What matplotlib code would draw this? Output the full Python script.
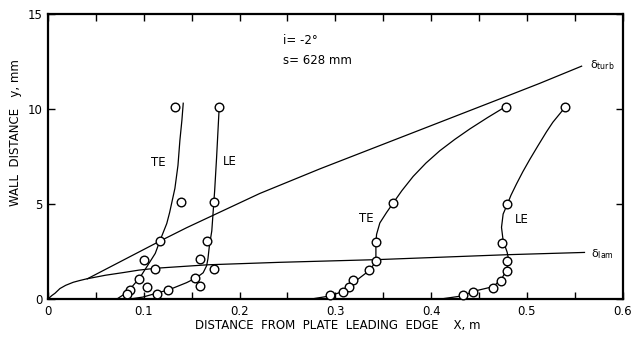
import matplotlib
matplotlib.use("Agg")
import matplotlib.pyplot as plt
from matplotlib.ticker import MultipleLocator

plt.rcParams['font.family'] = ['Liberation Sans Narrow', 'DejaVu Sans Condensed', 'DejaVu Sans']

# boundary layer thickness lines (x in m, y in mm)
lam_x = [0.0, 0.002, 0.004, 0.0073, 0.0125, 0.0185, 0.0264, 0.033, 0.0404, 0.06, 0.0786, 0.095,
         0.113, 0.167, 0.242, 0.3426, 0.479, 0.56]
lam_y = [0.0, 0.09, 0.18, 0.3, 0.55, 0.72, 0.88, 0.97, 1.06, 1.25, 1.39, 1.52,
         1.62, 1.8, 1.93, 2.07, 2.33, 2.45]
turb_x = [0.041, 0.117, 0.1447, 0.221, 0.284, 0.4856, 0.513, 0.557]
turb_y = [1.06, 3.05, 3.75, 5.55, 6.85, 10.8, 11.34, 12.25]

# transition-front traces, station 1
te1_x = [0.072, 0.082, 0.0887, 0.096, 0.104, 0.112, 0.117, 0.124, 0.127, 0.1325, 0.1357, 0.1377, 0.1398, 0.1412]
te1_y = [0.0, 0.33, 0.70, 1.13, 1.76, 2.4, 3.08, 3.97, 4.55, 5.82, 7.03, 8.34, 9.4, 10.3]
te1_px = [0.1325, 0.1388, 0.1169, 0.1005, 0.1117, 0.095, 0.0856, 0.082]
te1_py = [10.12, 5.11, 3.06, 2.06, 1.57, 1.04, 0.49, 0.28]

le1_x = [0.0856, 0.099, 0.113, 0.127, 0.1447, 0.155, 0.162, 0.1656, 0.167, 0.1685, 0.171, 0.174, 0.176, 0.1788]
le1_y = [0.0, 0.1, 0.3, 0.5, 0.86, 1.12, 1.38, 1.75, 2.12, 2.8, 3.58, 5.7, 7.43, 10.15]
le1_px = [0.1788, 0.173, 0.1656, 0.159, 0.1735, 0.1534, 0.159, 0.125, 0.1134, 0.1036]
le1_py = [10.12, 5.1, 3.05, 2.09, 1.56, 1.09, 0.68, 0.45, 0.27, 0.64]

# station 2
te2_x = [0.275, 0.2943, 0.309, 0.3186, 0.3347, 0.3402, 0.3423, 0.3423, 0.343, 0.3464, 0.3534, 0.3603,
         0.3694, 0.3812, 0.3945, 0.409, 0.4247, 0.4404, 0.459, 0.477]
te2_y = [0.0, 0.16, 0.42, 0.85, 1.47, 1.82, 2.08, 2.96, 3.4, 4.0, 4.55, 5.05,
         5.7, 6.45, 7.15, 7.8, 8.4, 8.95, 9.55, 10.1]
te2_px = [0.478, 0.3603, 0.3423, 0.3426, 0.335, 0.3186, 0.3144, 0.308, 0.294]
te2_py = [10.1, 5.05, 3.0, 2.0, 1.5, 1.0, 0.63, 0.37, 0.2]

le2_x = [0.41, 0.4334, 0.4438, 0.4647, 0.4734, 0.4793, 0.4803, 0.4793, 0.4751, 0.4734, 0.4751, 0.4793,
         0.4832, 0.489, 0.4957, 0.503, 0.5113, 0.5204, 0.527, 0.5343, 0.540]
le2_y = [0.0, 0.17, 0.4, 0.65, 1.05, 1.58, 2.2, 2.46, 3.07, 3.77, 4.47, 4.96,
         5.45, 6.05, 6.7, 7.35, 8.05, 8.8, 9.3, 9.75, 10.1]
le2_px = [0.540, 0.4793, 0.4737, 0.4793, 0.4793, 0.4727, 0.4647, 0.4432, 0.4334]
le2_py = [10.1, 5.0, 2.97, 2.0, 1.49, 0.96, 0.58, 0.37, 0.19]

fig = plt.figure(figsize=(6.31, 3.39), dpi=100)
ax = fig.add_axes([0.076, 0.118, 0.911, 0.841])

lw = 0.9
ax.plot(lam_x, lam_y, color='black', lw=lw)
ax.plot(turb_x, turb_y, color='black', lw=lw)
for cx, cy, mx, my in [(te1_x, te1_y, te1_px, te1_py), (le1_x, le1_y, le1_px, le1_py),
                       (te2_x, te2_y, te2_px, te2_py), (le2_x, le2_y, le2_px, le2_py)]:
    ax.plot(cx, cy, color='black', lw=lw)
    ax.plot(mx, my, 'o', ms=6.2, mfc='white', mec='black', mew=1.0, clip_on=False, zorder=3)

ax.set_xlim(0, 0.6)
ax.set_ylim(0, 15)
ax.xaxis.set_minor_locator(MultipleLocator(0.05))
ax.yaxis.set_major_locator(MultipleLocator(5))
ax.set_xticks([0, 0.1, 0.2, 0.3, 0.4, 0.5, 0.6])
ax.set_xticklabels(['0', '0.1', '0.2', '0.3', '0.4', '0.5', '0.6'])
ax.tick_params(which='both', direction='in', top=True, right=True, length=5, width=1.0,
               labelsize=8.5, pad=4)
for s in ax.spines.values():
    s.set_linewidth(1.6)

ax.text(0.245, 13.6, 'i= -2°', fontsize=8.5, va='center', ha='left')
ax.text(0.245, 12.55, 's= 628 mm', fontsize=8.5, va='center', ha='left')
ax.text(0.566, 12.3, r'$\mathregular{\delta_{turb}}$', fontsize=8, va='center', ha='left')
ax.text(0.567, 2.35, r'$\mathregular{\delta_{lam}}$', fontsize=8, va='center', ha='left')
ax.text(0.115, 7.17, 'TE', fontsize=8.5, va='center', ha='center')
ax.text(0.19, 7.25, 'LE', fontsize=8.5, va='center', ha='center')
ax.text(0.332, 4.23, 'TE', fontsize=8.5, va='center', ha='center')
ax.text(0.495, 4.17, 'LE', fontsize=8.5, va='center', ha='center')

fig.text(0.536, 0.04, 'DISTANCE  FROM  PLATE  LEADING  EDGE    X, m', fontsize=8.5,
         ha='center', va='center')
fig.text(0.024, 0.61, 'WALL  DISTANCE   y, mm', fontsize=8.5, rotation=90,
         ha='center', va='center')

fig.savefig('out.png', dpi=100)
